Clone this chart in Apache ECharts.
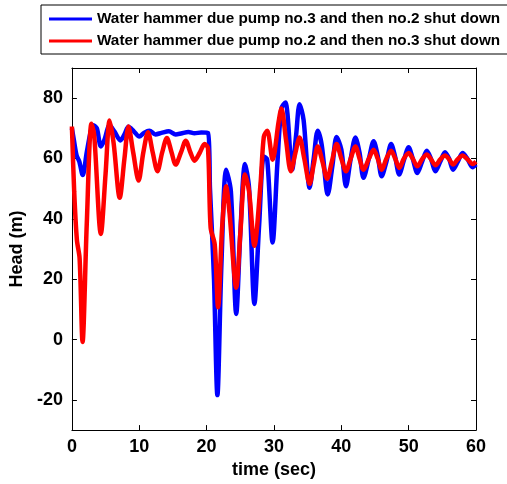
<!DOCTYPE html>
<html>
<head>
<meta charset="utf-8">
<script src="https://cdn.jsdelivr.net/npm/echarts@6/dist/echarts.min.js"></script>
<style>html,body{margin:0;padding:0;background:#fff;}#c{width:507px;height:484px;}</style>
</head>
<body>
<div id="c"></div>
<script>
var seriesNames = ['Water hammer due pump no.3 and then no.2 shut down', 'Water hammer due pump no.2 and then no.3 shut down'];
var xTicks = [0, 10, 20, 30, 40, 50, 60];
var yTicks = [-20, 0, 20, 40, 60, 80];

var blueT = [0,0.3,0.7,1.1,1.6,2.2,2.8,3.2,3.7,4.3,4.8,5.6,6.3,7.2,7.8,8.4,9.2,10.0,10.7,11.5,12.4,13.3,14.4,15.4,16.2,17.3,18.2,19.2,20.2,20.5,20.8,21.1,21.6,22.2,22.9,23.6,24.4,25.0,25.7,26.3,27.1,27.8,28.5,29.0,29.8,30.5,31.1,31.7,32.7,33.3,33.8,34.4,35.3,35.9,36.5,37.1,38.0,38.7,39.3,40.0,40.7,41.4,42.1,42.7,43.3,44.1,44.8,45.4,46.0,46.7,47.4,48.0,48.6,49.3,50.0,50.6,51.3,52.0,52.7,53.3,54.0,54.7,55.4,56.0,56.6,57.3,58.0,58.7,59.5,60];
var blueV = [70,66,61,59,54.5,62,69,71,70,64,66,71,69,66,68,70.5,69,67.3,68.5,69.2,68,68.5,69,68,68.3,68.8,68.4,68.6,68.5,50,35.5,20,-18.4,25,56.3,49.2,8.5,35,58.2,50.3,11.8,38,60.7,59.6,32.2,58,76.6,78.6,56.3,68,78,72.8,50.3,60,69.2,64.4,48.1,58,67.1,63,50.8,60,67,62,53.6,60,65.7,61,54.1,59,64.8,60.5,54.7,59.5,63.7,60,55.2,59,62.6,60,55.8,59,62.1,60,56.3,59,61.8,60,57.1,58];

var redT = [0,0.34,0.74,1.14,1.58,2.2,2.9,3.3,4.3,5.0,5.6,6.2,7.1,7.8,8.4,9.1,9.9,10.6,11.3,12.0,12.7,13.4,14.1,14.8,15.4,16.2,16.9,17.6,18.2,19.0,19.7,20.2,20.6,21.2,21.7,22.3,22.9,23.4,24.4,25.0,25.7,26.3,27.1,28.0,28.5,29.0,29.8,30.7,31.1,31.8,32.5,33.2,33.8,34.5,35.3,35.9,36.5,37.2,37.9,38.6,39.3,40.0,40.7,41.4,42.1,42.7,43.3,44.1,44.8,45.4,46.0,46.7,47.4,48.0,48.6,49.3,50.0,50.6,51.3,52.0,52.7,53.3,54.0,54.7,55.4,56.0,56.6,57.3,58.0,58.7,59.5,60];
var redV = [70.6,49,33,27,-0.8,38,71.5,68,35,55,72.6,65,47,60,70.6,62,52.7,62,68.7,62,55.8,62,66.8,62,58,62,65.9,62,59.3,62,64.8,63.5,37,31.6,10.7,37,50.8,42,17.2,34.9,54.7,49.2,31.1,51.4,67.3,69.2,59.6,72.3,76.6,66,55.8,62,67,60,51.6,58,64,59,53.3,59,64.8,60,55.8,60,64,60,56.3,60,62.9,60,56.3,60,62.6,60,56.9,60,61.8,60,57.4,59.8,61.3,59.8,57.8,59.7,61,59.8,58,59.8,61,59.8,58.2,59];

function pairs(t, v) { return t.map(function (x, i) { return [x, v[i]]; }); }

var FONT = "'Liberation Sans', Arial, sans-serif";
var chart = echarts.init(document.getElementById('c'), null, { renderer: 'canvas' });
var axLine = { show: true, onZero: false, lineStyle: { color: '#000', width: 1 } };
chart.setOption({
  animation: false,
  backgroundColor: '#fff',
  grid: { left: 71, right: 31, top: 68, bottom: 51, containLabel: false },
  legend: {
    data: seriesNames,
    orient: 'vertical',
    left: 41, top: 5,
    width: 461,
    padding: [5, 8, 4, 8],
    itemGap: 4,
    itemWidth: 43, itemHeight: 3,
    icon: 'rect',
    borderColor: '#000', borderWidth: 1,
    backgroundColor: '#fff',
    textStyle: { fontFamily: FONT, fontWeight: 'bold', fontSize: 15.3, color: '#000', lineHeight: 18 }
  },
  xAxis: [{
    type: 'value', min: 0, max: 60, interval: 10, position: 'bottom',
    name: 'time (sec)', nameLocation: 'middle', nameGap: 29,
    nameTextStyle: { fontFamily: FONT, fontWeight: 'bold', fontSize: 18, color: '#000' },
    axisLine: axLine,
    axisTick: { show: true, inside: true, length: 5, lineStyle: { color: '#000' } },
    axisLabel: { fontFamily: FONT, fontWeight: 'bold', fontSize: 18, color: '#000', margin: 8 },
    splitLine: { show: false }
  }, {
    type: 'value', min: 0, max: 60, interval: 10, position: 'top',
    axisLine: axLine,
    axisTick: { show: true, inside: true, length: 5, lineStyle: { color: '#000' } },
    axisLabel: { show: false }, splitLine: { show: false }
  }],
  yAxis: [{
    type: 'value', min: -30, max: 90, position: 'left',
    name: 'Head (m)', nameLocation: 'middle', nameGap: 44, nameRotate: 90,
    nameTextStyle: { fontFamily: FONT, fontWeight: 'bold', fontSize: 18, color: '#000' },
    axisLine: axLine,
    axisTick: { show: true, inside: true, length: 5, lineStyle: { color: '#000' }, customValues: yTicks },
    axisLabel: { fontFamily: FONT, fontWeight: 'bold', fontSize: 18, color: '#000', margin: 9, customValues: yTicks },
    splitLine: { show: false }
  }, {
    type: 'value', min: -30, max: 90, position: 'right',
    axisLine: axLine,
    axisTick: { show: true, inside: true, length: 5, lineStyle: { color: '#000' }, customValues: yTicks },
    axisLabel: { show: false, customValues: yTicks }, splitLine: { show: false }
  }],
  series: [{
    name: seriesNames[0], type: 'line', data: pairs(blueT, blueV),
    showSymbol: false, smooth: 0.3, color: '#0000ff',
    lineStyle: { color: '#0000ff', width: 4.5 }
  }, {
    name: seriesNames[1], type: 'line', data: pairs(redT, redV),
    showSymbol: false, smooth: 0.3, color: '#ff0000',
    lineStyle: { color: '#ff0000', width: 4.5 }
  }]
});
</script>
</body>
</html>
